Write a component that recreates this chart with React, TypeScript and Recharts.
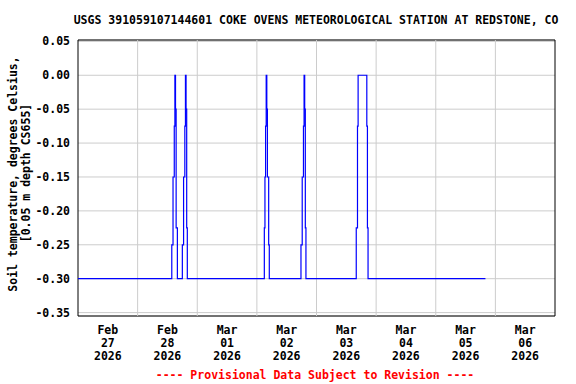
import React from 'react';
import { LineChart, Line, XAxis, YAxis, CartesianGrid, ReferenceLine, ReferenceArea } from 'recharts';

const TITLE = 'USGS 391059107144601 COKE OVENS METEOROLOGICAL STATION AT REDSTONE, CO';
const Y_LABEL_LINES = ['Soil temperature, degrees Celsius,', '[0.05 m depth CS655]'];
const FOOTER = '---- Provisional Data Subject to Revision ----';

const START = '2026-02-27T00:00';
const END = '2026-03-07T00:00';

const sampleTimes = [
  '2026-02-27T00:00',
  '2026-02-28T13:30', '2026-02-28T13:45', '2026-02-28T14:00', '2026-02-28T14:15', '2026-02-28T14:30',
  '2026-02-28T14:45', '2026-02-28T15:00', '2026-02-28T15:15', '2026-02-28T15:30', '2026-02-28T15:45',
  '2026-02-28T16:00',
  '2026-02-28T17:45', '2026-02-28T18:00', '2026-02-28T18:15', '2026-02-28T18:30', '2026-02-28T18:45',
  '2026-02-28T19:00', '2026-02-28T19:15', '2026-02-28T19:30', '2026-02-28T19:45', '2026-02-28T20:00',
  '2026-03-02T02:45', '2026-03-02T03:00', '2026-03-02T03:15', '2026-03-02T03:30', '2026-03-02T03:45',
  '2026-03-02T04:00', '2026-03-02T04:15', '2026-03-02T04:30', '2026-03-02T04:45', '2026-03-02T05:00',
  '2026-03-02T17:30', '2026-03-02T17:45', '2026-03-02T18:00', '2026-03-02T18:15', '2026-03-02T18:30',
  '2026-03-02T18:45', '2026-03-02T19:00', '2026-03-02T19:15', '2026-03-02T19:30', '2026-03-02T19:45',
  '2026-03-03T15:45', '2026-03-03T16:00', '2026-03-03T16:15', '2026-03-03T16:30', '2026-03-03T16:45',
  '2026-03-03T20:00', '2026-03-03T20:15', '2026-03-03T20:30', '2026-03-03T20:45',
  '2026-03-05T20:00',
];

const soilTemp = [
  -0.3,
  -0.3, -0.25, -0.25, -0.15, -0.15,
  -0.075, 0.0, -0.05, -0.225, -0.225,
  -0.3,
  -0.3, -0.25, -0.25, -0.15, -0.15,
  -0.075, 0.0, -0.05, -0.225, -0.3,
  -0.3, -0.225, -0.15, -0.075, 0.0,
  -0.05, -0.15, -0.15, -0.25, -0.3,
  -0.3, -0.25, -0.25, -0.15, -0.15,
  -0.075, 0.0, -0.05, -0.225, -0.3,
  -0.3, -0.225, -0.225, -0.075, 0.0,
  0.0, -0.075, -0.225, -0.3,
  -0.3,
];

const dayMonths = ['Feb', 'Feb', 'Mar', 'Mar', 'Mar', 'Mar', 'Mar', 'Mar'];
const dayNumbers = ['27', '28', '01', '02', '03', '04', '05', '06'];
const dayYears = ['2026', '2026', '2026', '2026', '2026', '2026', '2026', '2026'];

const yTicks = [0.05, 0.0, -0.05, -0.1, -0.15, -0.2, -0.25, -0.3, -0.35];
const Y_DOMAIN: [number, number] = [-0.355, 0.052];

const toHours = (s: string) => (Date.parse(s + ':00Z') - Date.parse(START + ':00Z')) / 3600000;
const TOTAL_HOURS = toHours(END);

const data = sampleTimes.map((t, i) => ({ h: toHours(t), v: soilTemp[i] }));
const noonTicks = dayNumbers.map((_, i) => i * 24 + 12);
const midnights = dayNumbers.slice(1).map((_, i) => (i + 1) * 24);

const FONT = '"DejaVu Sans Mono", "Liberation Mono", monospace';
const FS = 11.5;

const DateTick = (props: any) => {
  const { x, y, payload } = props;
  const i = Math.round((payload.value - 12) / 24);
  return (
    <text x={x} y={y} textAnchor="middle" fontFamily={FONT} fontSize={FS} fontWeight="bold" fill="#000">
      <tspan x={x} y={y + 18}>{dayMonths[i]}</tspan>
      <tspan x={x} y={y + 31}>{dayNumbers[i]}</tspan>
      <tspan x={x} y={y + 44}>{dayYears[i]}</tspan>
    </text>
  );
};

export default function App() {
  return (
    <div style={{ position: 'absolute', left: 0, top: 0, width: 576, height: 384, background: '#fff' }}>
      <LineChart width={576} height={384} data={data} margin={{ top: 40, right: 21, bottom: 0, left: 0 }}>
        <CartesianGrid vertical={false} stroke="#cccccc" />
        {midnights.map((m) => (
          <ReferenceLine key={m} x={m} stroke="#cccccc" strokeWidth={1} />
        ))}
        <XAxis
          type="number"
          dataKey="h"
          domain={[0, TOTAL_HOURS]}
          ticks={noonTicks}
          allowDataOverflow
          axisLine={false}
          tickLine={false}
          tickSize={0}
          tickMargin={0}
          height={68}
          interval={0}
          tick={<DateTick />}
        />
        <YAxis
          type="number"
          domain={Y_DOMAIN}
          ticks={yTicks}
          allowDataOverflow
          interval={0}
          axisLine={false}
          tickLine={false}
          tickSize={0}
          tickMargin={8}
          width={78}
          tickFormatter={(v: number) => v.toFixed(2)}
          tick={{ fontFamily: FONT, fontSize: FS, fontWeight: 'bold', fill: '#000' }}
        />
        <Line
          type="stepAfter"
          dataKey="v"
          stroke="#0000ff"
          strokeWidth={1.2}
          dot={false}
          isAnimationActive={false}
        />
        <ReferenceArea
          x1={0}
          x2={TOTAL_HOURS}
          y1={Y_DOMAIN[0]}
          y2={Y_DOMAIN[1]}
          fill="none"
          fillOpacity={0}
          stroke="#000"
          strokeWidth={1}
          ifOverflow="visible"
        />
      </LineChart>
      <svg
        width={576}
        height={384}
        style={{ position: 'absolute', left: 0, top: 0, pointerEvents: 'none' }}
      >
        <text x={316} y={24} textAnchor="middle" fontFamily={FONT} fontSize={FS} fontWeight="bold" fill="#000">
          {TITLE}
        </text>
        <text
          transform="translate(13,174) rotate(-90)"
          textAnchor="middle"
          dominantBaseline="central"
          fontFamily={FONT}
          fontSize={FS}
          fontWeight="bold"
          fill="#000"
        >
          {Y_LABEL_LINES[0]}
        </text>
        <text
          transform="translate(26,173) rotate(-90)"
          textAnchor="middle"
          dominantBaseline="central"
          fontFamily={FONT}
          fontSize={FS}
          fontWeight="bold"
          fill="#000"
        >
          {Y_LABEL_LINES[1]}
        </text>
        <text x={315} y={379} textAnchor="middle" fontFamily={FONT} fontSize={FS} fontWeight="bold" fill="#ff0000">
          {FOOTER}
        </text>
      </svg>
    </div>
  );
}
